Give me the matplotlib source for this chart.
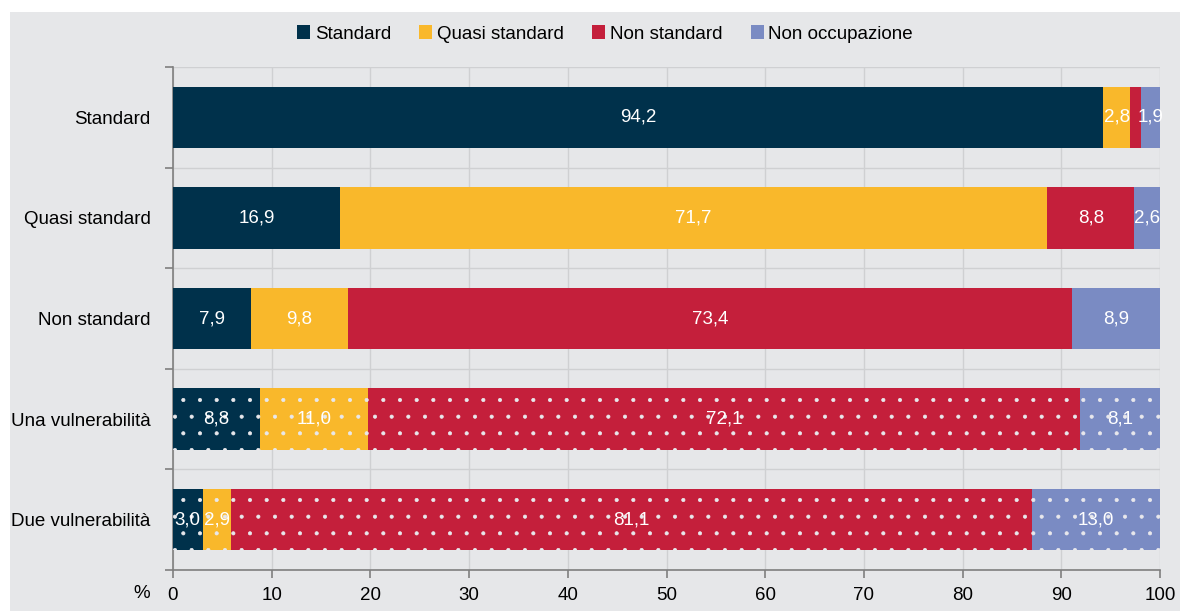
import matplotlib
matplotlib.use("Agg")
import matplotlib.pyplot as plt
from matplotlib.patches import Rectangle
import numpy as np

categories = ["Standard", "Quasi standard", "Non standard", "Una vulnerabilità", "Due vulnerabilità"]
series_names = ["Standard", "Quasi standard", "Non standard", "Non occupazione"]
s_standard = [94.2, 16.9, 7.9, 8.8, 3.0]
s_quasi = [2.8, 71.7, 9.8, 11.0, 2.9]
s_non = [1.1, 8.8, 73.4, 72.1, 81.1]
s_nonocc = [1.9, 2.6, 8.9, 8.1, 13.0]
labels_standard = ["94,2", "16,9", "7,9", "8,8", "3,0"]
labels_quasi = ["2,8", "71,7", "9,8", "11,0", "2,9"]
labels_non = ["", "8,8", "73,4", "72,1", "81,1"]
labels_nonocc = ["1,9", "2,6", "8,9", "8,1", "13,0"]
xticks = [0, 10, 20, 30, 40, 50, 60, 70, 80, 90, 100]

colors = ["#00314b", "#f9b82b", "#c41f3b", "#7a8bc3"]
dotted = [False, False, False, True, True]

font = ["Liberation Sans", "DejaVu Sans"]
plt.rcParams["font.family"] = font
plt.rcParams["hatch.color"] = "#e8e8ec"
plt.rcParams["hatch.linewidth"] = 0.5
FS = 13.5

W, H = 1180, 611
fig = plt.figure(figsize=(W / 100, H / 100), dpi=100, facecolor="white")
bg = "#e6e7e9"
fig.patches.append(Rectangle((10 / W, 0), 1 - 10 / W, (H - 12) / H, transform=fig.transFigure,
                             facecolor=bg, edgecolor="none", zorder=-10))
ax = fig.add_axes([173 / W, 1 - 570 / H, (1160 - 173) / W, (570 - 67) / H])
ax.set_facecolor(bg)

y = np.arange(len(categories))
all_series = [s_standard, s_quasi, s_non, s_nonocc]
all_labels = [labels_standard, labels_quasi, labels_non, labels_nonocc]
left = np.zeros(len(categories))
for vals, labs, col, name in zip(all_series, all_labels, colors, series_names):
    vals = np.array(vals)
    for i in range(len(categories)):
        ax.barh(y[i], vals[i], left=left[i], height=0.61, color=col,
                edgecolor="#e8e8ec" if dotted[i] else col, linewidth=0,
                hatch="." if dotted[i] else None, zorder=3,
                label=name if i == 0 else None)
        if labs[i]:
            ax.text(left[i] + vals[i] / 2, y[i], labs[i], ha="center", va="center",
                    color="white", fontsize=FS, zorder=4)
    left += vals

ax.set_xlim(0, 100)
ax.set_ylim(len(categories) - 0.5, -0.5)
ax.set_xticks(xticks)
ax.set_xticklabels([str(t) for t in xticks], fontsize=FS)
ax.set_yticks(y)
ax.set_yticklabels(categories, fontsize=FS)
ax.set_yticks(np.arange(-0.5, len(categories)), minor=True)
ax.tick_params(axis="y", which="major", length=0, pad=16)
ax.tick_params(axis="y", which="minor", length=6, color="#7f7f7f", width=1.2)
ax.tick_params(axis="x", length=6, color="#7f7f7f", width=1.2, pad=6)
ax.grid(axis="x", color="#cfd0d2", linewidth=1, zorder=0)
ax.grid(axis="y", which="minor", color="#cfd0d2", linewidth=1, zorder=0)
for s in ["top", "right"]:
    ax.spines[s].set_visible(False)
for s in ["left", "bottom"]:
    ax.spines[s].set_color("#7f7f7f")
    ax.spines[s].set_linewidth(1.2)

fig.text(142 / W, 1 - 594 / H, "%", fontsize=FS, ha="center", va="center")

leg = fig.legend(loc="center", bbox_to_anchor=(605 / W, 1 - 34 / H), ncol=4, frameon=False,
                 fontsize=FS, handlelength=0.7, handleheight=0.7, handletextpad=0.25,
                 columnspacing=1.5)
for h in leg.legend_handles:
    h.set_hatch(None)

fig.savefig("out.png", dpi=100, facecolor="white")
